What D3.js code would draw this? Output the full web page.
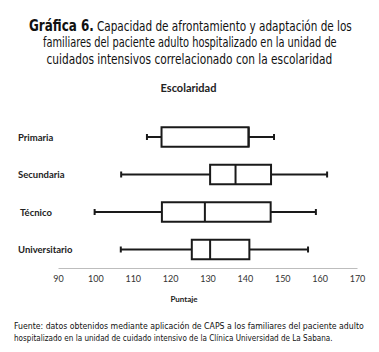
<!DOCTYPE html>
<html><head><meta charset="utf-8">
<script src="https://cdn.jsdelivr.net/npm/d3@7"></script>
<style>body{margin:0;background:#fff}svg{display:block}</style>
</head><body>
<script>
const categories = ["Primaria","Secundaria","Técnico","Universitario"];
const minVals    = [113.8, 106.9,  99.8, 106.8];
const q1Vals     = [117.7, 130.7, 117.8, 125.8];
const medianVals = [141.0, 137.5, 129.3, 130.7];
const q3Vals     = [141.0, 147.0, 146.9, 141.2];
const maxVals    = [147.8, 162.0, 159.0, 156.9];
const xTicks = [90,100,110,120,130,140,150,160,170];

const W=379,H=352;
const svg=d3.select("body").append("svg").attr("width",W).attr("height",H);
const titleFont="'Liberation Sans Narrow','DejaVu Sans Condensed','Open Sans',sans-serif";
const chartFont="Lato,'Open Sans',sans-serif";

// text squeezed horizontally to a target width, keeping glyph height
function fitText(str,x0,y0,size,width,weight){
  const t=svg.append("text").attr("x",0).attr("y",0).attr("font-family",titleFont)
    .attr("font-size",size).attr("font-weight",weight||"normal").attr("fill","#111").text(str);
  const w=t.node().getComputedTextLength();
  t.attr("transform",`translate(${x0},${y0}) scale(${width/w},1)`);
  return t;
}

// Header
fitText("Gráfica 6.",29,30.5,15,65,"bold");
fitText("Capacidad de afrontamiento y adaptación de los",97,30.5,13.5,255);
fitText("familiares del paciente adulto hospitalizado en la unidad de",43,47,13.5,294);
fitText("cuidados intensivos correlacionado con la escolaridad",46.5,63.5,13.5,286);

// Chart title
svg.append("text").attr("x",188.5).attr("y",92).attr("text-anchor","middle").attr("font-family",chartFont)
  .attr("font-weight","bold").attr("font-size",11).attr("fill","#222").text("Escolaridad");

const x=d3.scaleLinear().domain([90,170]).range([58,357]);
const y=d3.scalePoint().domain(categories).range([137,249.5]);
const bh=19.5;

// axis
const ax=svg.append("g").attr("transform","translate(0,268)")
  .call(d3.axisBottom(x).tickValues(xTicks).tickSize(0).tickPadding(8).tickFormat(d3.format("d")));
ax.select(".domain").attr("stroke","#bdbdbd").attr("stroke-width",1);
ax.selectAll("text").attr("font-family",chartFont).attr("font-size",9).attr("fill","#333");

svg.append("text").attr("x",184).attr("y",302).attr("text-anchor","middle").attr("font-family",chartFont)
  .attr("font-weight","bold").attr("font-size",8).attr("fill","#222").text("Puntaje");

// category labels
svg.selectAll("text.cat").data(categories).join("text").attr("class","cat")
  .attr("x",(d,i)=>i===2?20:18).attr("y",d=>y(d)+3.5).attr("font-family",chartFont)
  .attr("font-weight","bold").attr("font-size",9.5).attr("fill","#222").text(d=>d);

const data=categories.map((c,i)=>({c,min:minVals[i],q1:q1Vals[i],med:medianVals[i],q3:q3Vals[i],max:maxVals[i]}));
const g=svg.append("g").attr("stroke","#1a1a1a").attr("fill","none");
data.forEach(d=>{
  const cy=y(d.c);
  g.append("line").attr("x1",x(d.min)).attr("x2",x(d.q1)).attr("y1",cy).attr("y2",cy).attr("stroke-width",2);
  g.append("line").attr("x1",x(d.q3)).attr("x2",x(d.max)).attr("y1",cy).attr("y2",cy).attr("stroke-width",2);
  g.append("line").attr("x1",x(d.min)).attr("x2",x(d.min)).attr("y1",cy-3).attr("y2",cy+3).attr("stroke-width",2);
  g.append("line").attr("x1",x(d.max)).attr("x2",x(d.max)).attr("y1",cy-3).attr("y2",cy+3).attr("stroke-width",2);
  g.append("rect").attr("x",x(d.q1)).attr("y",cy-bh/2).attr("width",x(d.q3)-x(d.q1)).attr("height",bh)
    .attr("fill","#fff").attr("stroke-width",2);
  g.append("line").attr("x1",x(d.med)).attr("x2",x(d.med)).attr("y1",cy-bh/2).attr("y2",cy+bh/2).attr("stroke-width",2);
});

// footer
fitText("Fuente: datos obtenidos mediante aplicación de CAPS a los familiares del paciente adulto",14,329,9,350);
fitText("hospitalizado en la unidad de cuidado intensivo de la Clínica Universidad de La Sabana.",14,341,9,319);
</script>
</body></html>
